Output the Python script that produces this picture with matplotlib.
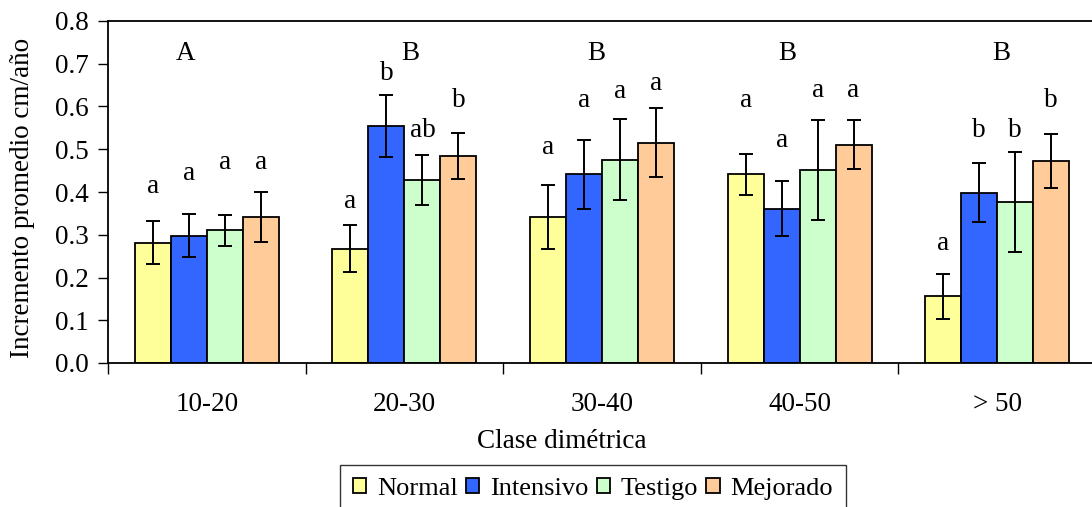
import matplotlib
matplotlib.use("Agg")
import matplotlib.pyplot as plt
import numpy as np

categories = ["10-20", "20-30", "30-40", "40-50", "> 50"]
series = ["Normal", "Intensivo", "Testigo", "Mejorado"]
colors = ["#FFFF99", "#3366FF", "#CCFFCC", "#FFCC99"]

normal = [0.281, 0.267, 0.342, 0.441, 0.156]
intensivo = [0.298, 0.554, 0.441, 0.361, 0.398]
testigo = [0.310, 0.428, 0.476, 0.452, 0.377]
mejorado = [0.342, 0.484, 0.515, 0.511, 0.472]

err_normal = [0.050, 0.055, 0.075, 0.047, 0.053]
err_intensivo = [0.051, 0.073, 0.081, 0.065, 0.069]
err_testigo = [0.037, 0.058, 0.095, 0.117, 0.117]
err_mejorado = [0.058, 0.054, 0.081, 0.057, 0.063]

letters_normal = ["a", "a", "a", "a", "a"]
letters_intensivo = ["a", "b", "a", "a", "b"]
letters_testigo = ["a", "ab", "a", "a", "b"]
letters_mejorado = ["a", "b", "a", "a", "b"]

ypos_normal = [0.412, 0.377, 0.504, 0.614, 0.280]
ypos_intensivo = [0.444, 0.678, 0.614, 0.520, 0.545]
ypos_testigo = [0.468, 0.543, 0.634, 0.637, 0.545]
ypos_mejorado = [0.468, 0.615, 0.653, 0.637, 0.615]

group_letters = ["A", "B", "B", "B", "B"]
group_letter_y = [0.725, 0.725, 0.725, 0.725, 0.725]

values = [normal, intensivo, testigo, mejorado]
errors = [err_normal, err_intensivo, err_testigo, err_mejorado]
letters = [letters_normal, letters_intensivo, letters_testigo, letters_mejorado]
ypos = [ypos_normal, ypos_intensivo, ypos_testigo, ypos_mejorado]

plt.rcParams['font.family'] = ['Liberation Serif', 'DejaVu Serif']

FS = 19.5
W, H = 1092, 507
fig = plt.figure(figsize=(W / 100, H / 100), dpi=100)
ax = fig.add_axes([108 / W, (H - 363) / H, (1096 - 108) / W, (363 - 21) / H])

x = np.arange(len(categories))
bw = 0.182
for i, (vals, errs, col) in enumerate(zip(values, errors, colors)):
    xs = x + (i - 1.5) * bw
    ax.bar(xs, vals, width=bw, color=col, edgecolor="black", linewidth=1.3,
           label=series[i], zorder=2)
    ax.errorbar(xs, vals, yerr=errs, fmt="none", ecolor="black",
                elinewidth=1.4, capsize=4.8, capthick=1.4, zorder=3)
    for xi, lt, yp in zip(xs, letters[i], ypos[i]):
        ax.text(xi, yp, lt, ha="center", va="center", fontsize=FS)

gx_offset = [-0.11, 0.03, -0.03, -0.06, 0.02]
for xi, gl, gy, off in zip(x, group_letters, group_letter_y, gx_offset):
    ax.text(xi + off, gy, gl, ha="center", va="center", fontsize=FS)

ax.set_xlim(-0.5, 4.5)
ax.set_ylim(0, 0.8)
ax.set_yticks(np.arange(0, 0.81, 0.1))
ax.set_yticklabels([f"{v:.1f}" for v in np.arange(0, 0.81, 0.1)], fontsize=FS)
ax.set_xticks(x)
ax.set_xticklabels(categories, fontsize=FS)
ax.set_xticks(np.arange(-0.5, 4.6, 1.0), minor=True)
ax.tick_params(axis="x", which="major", length=0, pad=21)
ax.tick_params(axis="x", which="minor", length=8, width=1, direction="out")
ax.tick_params(axis="y", length=7, width=1, direction="out", pad=7)
for s in ax.spines.values():
    s.set_linewidth(1.3)

fig.text(23 / W, 1 - 198 / H, "Incremento promedio cm/año", rotation=90,
         ha="center", va="center", fontsize=FS)
fig.text(562 / W, 1 - 441 / H, "Clase dimétrica", ha="center", va="center", fontsize=FS)

leg = fig.legend(loc="upper center", bbox_to_anchor=(593 / W, 1 - 465 / H),
                 ncol=4, fontsize=19, frameon=True, fancybox=False,
                 edgecolor="black", handlelength=0.5, handleheight=0.5,
                 handletextpad=0.4, columnspacing=0.32, borderpad=0.5,
                 borderaxespad=0)
leg.get_frame().set_linewidth(1.0)

fig.savefig("out.png", dpi=100)
